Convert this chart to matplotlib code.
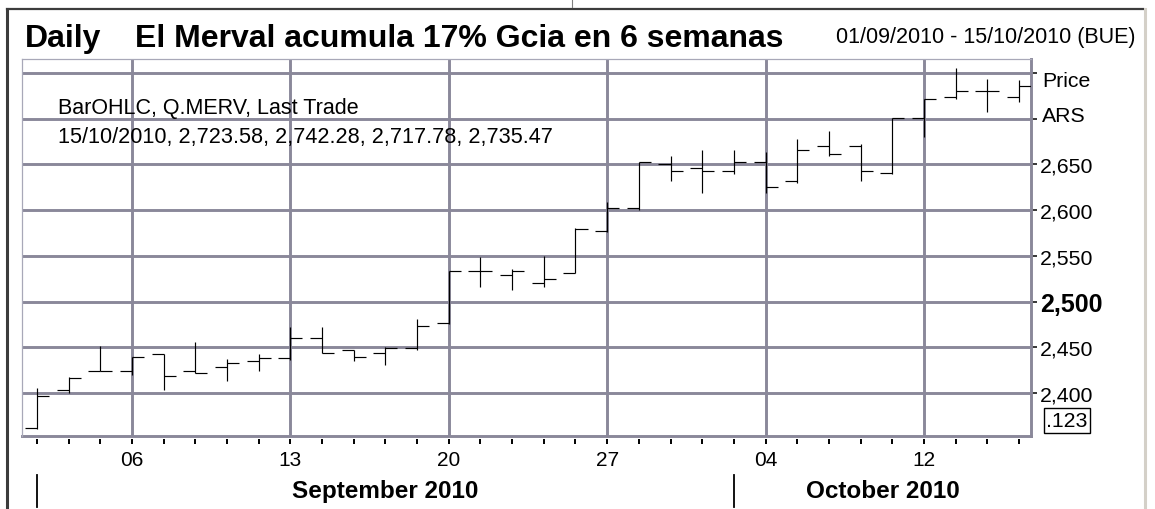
import pandas as pd
import matplotlib.pyplot as plt
import matplotlib.transforms as mtransforms
from matplotlib.lines import Line2D

plt.rcParams['font.family'] = ['Liberation Sans', 'DejaVu Sans']

# Daily OHLC for Q.MERV, 01/09/2010 - 15/10/2010
dates = ['2010-09-01', '2010-09-02', '2010-09-03', '2010-09-06', '2010-09-07',
         '2010-09-08', '2010-09-09', '2010-09-10', '2010-09-13', '2010-09-14',
         '2010-09-15', '2010-09-16', '2010-09-17', '2010-09-20', '2010-09-21',
         '2010-09-22', '2010-09-23', '2010-09-24', '2010-09-27', '2010-09-28',
         '2010-09-29', '2010-09-30', '2010-10-01', '2010-10-04', '2010-10-05',
         '2010-10-06', '2010-10-07', '2010-10-08', '2010-10-12', '2010-10-13',
         '2010-10-14', '2010-10-15']
opens = [2361.7, 2403.3, 2424.0, 2424.0, 2442.7, 2424.0, 2428.8, 2435.4,
         2438.0, 2460.2, 2447.0, 2444.1, 2448.9, 2476.2, 2533.8, 2529.1,
         2520.0, 2531.3, 2576.9, 2602.0, 2650.5, 2645.8, 2643.2, 2653.0,
         2631.6, 2670.6, 2670.6, 2640.7, 2700.5, 2723.5, 2730.4, 2723.58]
highs = [2405.0, 2417.5, 2451.4, 2439.7, 2442.7, 2455.4, 2437.2, 2442.7,
         2471.9, 2471.9, 2447.0, 2450.0, 2481.0, 2533.8, 2549.1, 2535.7,
         2549.5, 2580.2, 2608.6, 2653.0, 2659.6, 2666.2, 2666.2, 2663.3,
         2677.9, 2687.0, 2672.4, 2700.5, 2721.7, 2755.1, 2743.5, 2742.28]
lows = [2360.6, 2400.0, 2424.0, 2419.7, 2403.6, 2421.5, 2412.8, 2424.4,
        2436.1, 2443.4, 2435.3, 2431.0, 2447.4, 2475.5, 2515.6, 2513.0,
        2515.6, 2531.3, 2575.8, 2600.5, 2632.3, 2618.8, 2639.6, 2619.2,
        2629.8, 2659.6, 2632.3, 2639.6, 2680.4, 2721.7, 2707.8, 2717.78]
closes = [2396.8, 2416.4, 2424.0, 2439.7, 2419.0, 2421.9, 2433.2, 2438.3,
          2460.2, 2444.1, 2439.7, 2448.9, 2473.6, 2533.8, 2533.8, 2533.8,
          2524.7, 2579.4, 2602.4, 2653.0, 2643.2, 2643.2, 2653.0, 2625.0,
          2666.2, 2661.5, 2643.2, 2700.5, 2721.7, 2730.4, 2730.4, 2735.47]
price_levels = [2400, 2450, 2500, 2550, 2600, 2650, 2700, 2750]

W, H = 1155, 510
grid_col = '#8a889a'
d = pd.to_datetime(pd.Series(dates))
x = list(range(len(dates)))

def fx(px):
    return px / W

def fy(py):
    return 1 - py / H

fig = plt.figure(figsize=(W / 100, H / 100), dpi=100)
ax = fig.add_axes([fx(22), fy(437), (1031 - 22) / W, (437 - 60) / H])
ax.set_xlim(-0.473, 31.38)
ax.set_ylim(2353, 2765.3)

# OHLC bars
tw = 0.38
ax.vlines(x, lows, highs, color='black', lw=0.85, zorder=3)
ax.hlines(opens, [i - tw for i in x], x, color='black', lw=0.85, zorder=3)
ax.hlines(closes, x, [i + tw for i in x], color='black', lw=0.85, zorder=3)

# week starts (first trading day of each new week) and month starts
week = d.dt.isocalendar().week.tolist()
week_idx = [i for i in range(1, len(d)) if week[i] != week[i - 1]]
month_idx = [0] + [i for i in range(1, len(d)) if d[i].month != d[i - 1].month]

ax.set_xticks(week_idx, [d[i].strftime('%d') for i in week_idx])
ax.set_xticks(x, minor=True)
ax.tick_params(axis='x', which='both', direction='out', length=3.6, width=1.4,
               color='black', labelsize=15, pad=4)

ylabels = ['{:,.0f}'.format(v) if v < 2700 else '' for v in price_levels]
ax.set_yticks(price_levels, ylabels)
ax.yaxis.tick_right()
ax.tick_params(axis='y', direction='out', length=4.5, width=1.1, color='black',
               labelsize=15.3, pad=2)
for lbl in ax.get_yticklabels():
    if lbl.get_text() == '2,500':
        lbl.set_fontweight('bold')
        lbl.set_fontsize(18)

ax.grid(True, which='major', color=grid_col, lw=2.1)
ax.set_axisbelow(True)

for s in ['top', 'left']:
    ax.spines[s].set_color('#a8a8b8')
    ax.spines[s].set_linewidth(0.9)
ax.spines['right'].set_color(grid_col)
ax.spines['right'].set_linewidth(2.1)
ax.spines['bottom'].set_position(('outward', 2.5))
ax.spines['bottom'].set_visible(False)
ax.axhline(2353, color=grid_col, lw=2.1, clip_on=False, zorder=1)

# month labels below the axis
bt = mtransforms.blended_transform_factory(ax.transData, fig.transFigure)
month_ends = month_idx[1:] + [ax.get_xlim()[1]]
for s, e in zip(month_idx, month_ends):
    ax.add_artist(Line2D([s, s], [fy(476), fy(508)], transform=bt, color='black',
                         lw=1.3, clip_on=False))
    ax.text((s + e) / 2, fy(492), d[s].strftime('%B %Y'), transform=bt,
            ha='center', va='center', fontsize=17.5, fontweight='bold')

# frame around the whole chart
fig.add_artist(Line2D([fx(7), fx(1143)], [fy(10), fy(10)], color='#3c3c3c', lw=1.6))
fig.add_artist(Line2D([fx(7), fx(7)], [fy(10), fy(510)], color='#3c3c3c', lw=2.2))
fig.add_artist(Line2D([fx(1145), fx(1145)], [fy(10), fy(510)], color='#d4d0c8', lw=2.2))
fig.add_artist(Line2D([fx(572), fx(572)], [fy(0), fy(8)], color='#808080', lw=0.8))

# titles and annotations
fig.text(fx(25), fy(47), 'Daily', fontsize=23, fontweight='bold', va='baseline')
fig.text(fx(135), fy(47), 'El Merval acumula 17% Gcia en 6 semanas', fontsize=23,
         fontweight='bold', va='baseline')
fig.text(fx(1135), fy(43.5), '01/09/2010 - 15/10/2010 (BUE)', fontsize=15.5,
         ha='right', va='baseline')
fig.text(fx(58), fy(114.3), 'BarOHLC, Q.MERV, Last Trade', fontsize=15.5, va='baseline')
fig.text(fx(58), fy(143.3), '{}, {:,.2f}, {:,.2f}, {:,.2f}, {:,.2f}'.format(
    d.iloc[-1].strftime('%d/%m/%Y'), opens[-1], highs[-1], lows[-1], closes[-1]),
    fontsize=15.6, va='baseline')
fig.text(fx(1042), fy(86.7), 'Price', fontsize=15.3, va='baseline')
fig.text(fx(1042), fy(121.7), 'ARS', fontsize=15.3, va='baseline')
fig.text(fx(1067), fy(421.5), '.123', fontsize=15.3, ha='center', va='center',
         bbox=dict(boxstyle='square,pad=0.12', fc='white', ec='black', lw=1.0))

fig.savefig('out.png', dpi=100)
